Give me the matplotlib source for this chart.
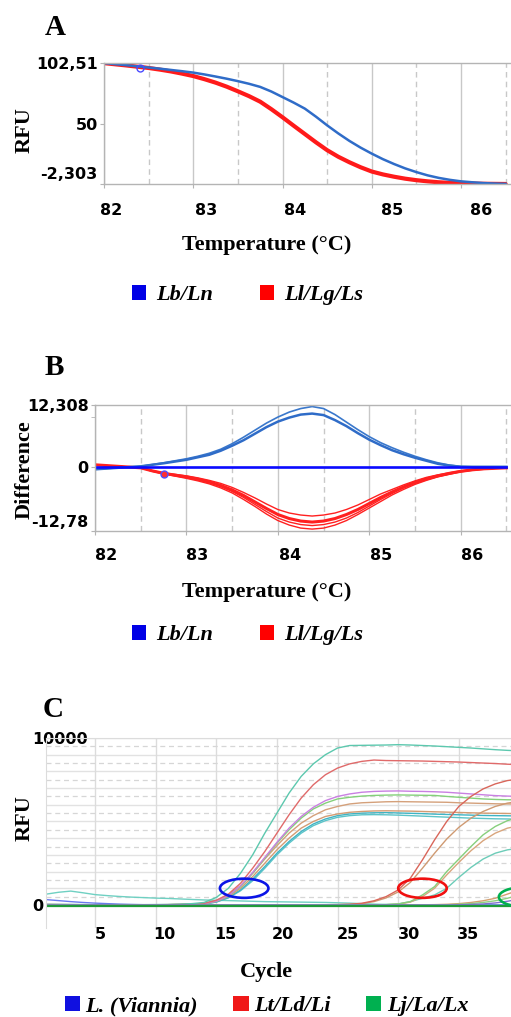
import numpy as np
import matplotlib
matplotlib.use("Agg")
import matplotlib.pyplot as plt
from matplotlib.patches import Patch, Ellipse
from matplotlib.font_manager import FontProperties
from matplotlib.transforms import ScaledTranslation

# ---------------- data ----------------
temp = [82.0, 82.125, 82.25, 82.375, 82.5, 82.625, 82.75, 82.875, 83.0, 83.125,
        83.25, 83.375, 83.5, 83.625, 83.75, 83.875, 84.0, 84.125, 84.25, 84.375,
        84.5, 84.625, 84.75, 84.875, 85.0, 85.125, 85.25, 85.375, 85.5, 85.625,
        85.75, 85.875, 86.0, 86.125, 86.25, 86.375, 86.5]

# Panel A: melt curves (RFU)
meltA_blue = [102.4, 101.5, 100.6, 99.6, 98.6, 97.6, 96.5, 95.4, 94.2, 92.6,
              90.8, 88.9, 86.8, 84.5, 81.8, 77.8, 73.0, 68.2, 63.0, 56.0,
              48.5, 41.5, 35.0, 29.2, 24.0, 19.2, 15.0, 11.2, 8.0, 5.2,
              3.0, 1.3, 0.0, -0.8, -1.5, -1.9, -2.2]
meltA_red = [102.4, 101.4, 100.4, 99.3, 98.2, 96.8, 95.2, 93.3, 91.2, 88.5,
             85.5, 82.0, 78.0, 73.8, 69.0, 62.5, 55.5, 48.2, 41.0, 33.8,
             27.0, 21.3, 16.5, 12.2, 8.5, 6.0, 4.0, 2.3, 1.0, 0.0,
             -0.8, -1.3, -1.7, -1.9, -2.1, -2.2, -2.3]
cursorA = [82.4, 98.4]

# Panel B: difference curves
diffB_blue_upper = [-0.5, -0.35, -0.2, -0.05, 0.1, 0.45, 0.8, 1.2, 1.6, 2.1,
                    2.7, 3.5, 4.6, 5.9, 7.3, 8.7, 9.9, 10.9, 11.6, 12.0,
                    11.6, 10.4, 8.9, 7.4, 6.0, 4.8, 3.8, 2.9, 2.1, 1.4,
                    0.8, 0.35, 0.1, 0.0, 0.0, 0.0, 0.0]
diffB_blue_lower = [-0.5, -0.35, -0.2, -0.05, 0.1, 0.4, 0.7, 1.05, 1.4, 1.9,
                    2.4, 3.2, 4.2, 5.3, 6.6, 7.9, 9.0, 9.8, 10.4, 10.6,
                    10.3, 9.3, 8.1, 6.7, 5.4, 4.3, 3.3, 2.5, 1.8, 1.2,
                    0.6, 0.25, 0.0, 0.0, 0.0, 0.0, 0.0]
diffB_red_shallow = [0.4, 0.25, 0.1, -0.05, -0.2, -0.75, -1.2, -1.5, -1.8, -2.2,
                     -2.7, -3.3, -4.1, -5.1, -6.2, -7.4, -8.5, -9.2, -9.6, -9.8,
                     -9.6, -9.2, -8.5, -7.6, -6.5, -5.4, -4.5, -3.6, -2.8, -2.1,
                     -1.6, -1.2, -0.8, -0.55, -0.4, -0.3, -0.2]
diffB_red_main = [0.4, 0.25, 0.1, -0.05, -0.2, -0.8, -1.3, -1.65, -2.0, -2.45,
                  -3.0, -3.7, -4.6, -5.7, -7.0, -8.3, -9.5, -10.3, -10.8, -11.0,
                  -10.8, -10.3, -9.5, -8.5, -7.3, -6.1, -5.0, -4.0, -3.1, -2.4,
                  -1.8, -1.3, -0.9, -0.6, -0.4, -0.3, -0.2]
diffB_red_mid = [0.4, 0.25, 0.1, -0.05, -0.2, -0.85, -1.35, -1.75, -2.15, -2.6,
                 -3.2, -3.95, -4.9, -6.1, -7.5, -8.9, -10.2, -11.0, -11.5, -11.7,
                 -11.5, -11.0, -10.2, -9.1, -7.8, -6.5, -5.3, -4.2, -3.3, -2.55,
                 -1.9, -1.4, -0.95, -0.65, -0.45, -0.3, -0.2]
diffB_red_deep = [0.4, 0.25, 0.1, -0.05, -0.2, -0.9, -1.4, -1.85, -2.3, -2.8,
                  -3.4, -4.2, -5.2, -6.5, -7.9, -9.4, -10.7, -11.6, -12.2, -12.4,
                  -12.2, -11.6, -10.7, -9.5, -8.2, -6.9, -5.6, -4.5, -3.5, -2.7,
                  -2.0, -1.5, -1.0, -0.7, -0.5, -0.3, -0.2]
zero_temp = [82.0, 86.5]
diffB_zero = [0.0, 0.0]
cursorB = [82.75, -1.5]

temp_ticks = [82, 83, 84, 85, 86]
temp_half_ticks = [82.5, 83.5, 84.5, 85.5, 86.5]
A_yticks = [-2.303, 50, 102.51]
A_ylabels = ["-2,303", "50", "102,51"]
B_yticks = [-12.78, 0, 12.308]
B_ylabels = ["-12,78", "0", "12,308"]

# Panel C: amplification curves (cycle 1..40)
cycles = list(range(1, 41))
# group 1 : L. (Viannia)
amp_teal_hi = [40, 35, 30, 25, 20, 20, 20, 20, 20, 25, 30, 45, 80,
               150, 450, 1000, 1900, 3000, 4300, 5500, 6700, 7700, 8450, 9000, 9400, 9550,
               9560, 9570, 9580, 9600, 9580, 9550, 9520, 9480, 9440, 9400, 9350, 9300, 9260, 9230]
amp_red_hi = [30, 25, 20, 15, 10, 10, 10, 10, 10, 15, 20, 30, 50,
              100, 280, 650, 1300, 2200, 3200, 4300, 5400, 6400, 7200, 7800, 8200, 8450,
              8600, 8680, 8650, 8640, 8630, 8620, 8600, 8580, 8560, 8530, 8500, 8470, 8430, 8400]
amp_purple = [20, 20, 15, 15, 10, 10, 10, 10, 10, 10, 15, 25, 40,
              80, 230, 560, 1150, 1950, 2850, 3750, 4600, 5300, 5850, 6250, 6500, 6650,
              6750, 6800, 6820, 6830, 6810, 6800, 6780, 6750, 6700, 6650, 6600, 6550, 6520, 6500]
amp_green1 = [10, 10, 10, 5, 5, 5, 5, 5, 5, 10, 15, 25, 40,
              80, 230, 550, 1100, 1900, 2800, 3700, 4500, 5200, 5750, 6100, 6350, 6450,
              6520, 6560, 6580, 6590, 6580, 6570, 6560, 6500, 6450, 6400, 6350, 6320, 6300, 6300]
amp_brown1 = [15, 15, 10, 10, 10, 10, 10, 10, 10, 10, 20, 30, 45,
              90, 260, 600, 1150, 1900, 2750, 3550, 4300, 4900, 5350, 5700, 5900, 6050,
              6120, 6150, 6180, 6190, 6180, 6170, 6160, 6150, 6120, 6100, 6080, 6060, 6050, 6040]
amp_brown2 = [10, 10, 10, 10, 5, 5, 5, 5, 5, 10, 15, 25, 35,
              70, 210, 500, 1000, 1700, 2500, 3300, 4000, 4600, 5000, 5300, 5450, 5550,
              5600, 5630, 5640, 5630, 5620, 5600, 5580, 5560, 5540, 5520, 5500, 5490, 5480, 5470]
amp_teal2 = [10, 10, 10, 5, 5, 5, 5, 5, 5, 10, 15, 20, 30,
             60, 180, 450, 900, 1550, 2300, 3100, 3800, 4400, 4850, 5150, 5350, 5450,
             5500, 5520, 5530, 5510, 5490, 5470, 5440, 5420, 5400, 5380, 5360, 5350, 5340, 5330]
amp_teal3 = [10, 10, 5, 5, 5, 5, 5, 5, 5, 10, 15, 20, 30,
             60, 170, 420, 850, 1450, 2200, 3000, 3700, 4300, 4750, 5050, 5250, 5350,
             5400, 5410, 5400, 5380, 5350, 5320, 5290, 5260, 5230, 5200, 5180, 5160, 5150, 5140]
# group 2 : Lt/Ld/Li
amp_red2 = [20, 15, 10, 10, 5, 5, 5, 5, 5, 5, 5, 5, 5, 5, 5, 5, 5, 5, 5, 5,
            5, 10, 10, 15, 20, 40, 100, 250, 500, 900, 1600, 2700, 3900, 5000, 5900, 6500,
            6950, 7250, 7450, 7550]
amp_brown3 = [10, 10, 5, 5, 5, 5, 5, 5, 5, 5, 5, 5, 5, 5, 5, 5, 5, 5, 5, 5,
              5, 5, 10, 15, 20, 35, 80, 200, 420, 780, 1350, 2200, 3100, 3950, 4650, 5200,
              5600, 5900, 6100, 6200]
amp_green2 = [5, 5, 5, 5, 5, 5, 5, 5, 5, 5, 5, 5, 5, 5, 5, 5, 5, 5, 5, 5,
              5, 5, 5, 5, 5, 5, 5, 10, 20, 60, 200, 600, 1100, 2000, 2750, 3500,
              4200, 4700, 5050, 5250]
amp_brown4 = [5, 5, 5, 5, 5, 5, 5, 5, 5, 5, 5, 5, 5, 5, 5, 5, 5, 5, 5, 5,
              5, 5, 5, 5, 5, 5, 5, 5, 15, 50, 170, 500, 1000, 1800, 2550, 3250,
              3850, 4300, 4600, 4750]
amp_teal4 = [5, 5, 5, 5, 5, 5, 5, 5, 5, 5, 5, 5, 5, 5, 5, 5, 5, 5, 5, 5,
             5, 5, 5, 5, 5, 5, 5, 10, 20, 60, 200, 400, 600, 1000, 1650, 2250,
             2750, 3100, 3300, 3400]
# group 3 : Lj/La/Lx
amp_g3a = [0, 0, 0, 0, 0, 0, 0, 0, 0, 0, 0, 0, 0, 0, 0, 0, 0, 0, 0, 0,
           0, 0, 0, 0, 0, 0, 0, 0, 0, 5, 5, 10, 20, 40, 80, 150, 250, 400, 650, 900]
amp_g3b = [0, 0, 0, 0, 0, 0, 0, 0, 0, 0, 0, 0, 0, 0, 0, 0, 0, 0, 0, 0,
           0, 0, 0, 0, 0, 0, 0, 0, 0, 0, 0, 0, 5, 10, 40, 80, 150, 250, 400, 600]
amp_g3c = [0, 0, 0, 0, 0, 0, 0, 0, 0, 0, 0, 0, 0, 0, 0, 0, 0, 0, 0, 0,
           0, 0, 0, 0, 0, 0, 0, 0, 0, 0, 0, 0, 0, 0, 10, 30, 60, 120, 220, 350]
# non-amplifying baselines
amp_teal_base = [650, 760, 830, 730, 620, 560, 510, 470, 440, 410, 390, 360, 330, 300,
                 280, 260, 240, 220, 200, 190, 180, 170, 160, 150, 130, 110, 80, 50,
                 30, 10, 0, 0, 0, 0, 0, 0, 0, 0, 0, 0]
amp_blue_base = [320, 260, 200, 150, 110, 80, 50, 30, 15, 5, 0, 0, 0, 0, 0, 0, 0, 0, 0, 0,
                 0, 0, 0, 0, 0, 0, 0, 0, 0, 0, 0, 0, 0, 0, 0, 0, 0, 0, 0, 0]
amp_green_flat_cycles = [1, 40]
amp_green_flat = [-40, -40]

cycle_ticks = [5, 10, 15, 20, 25, 30, 35]
C_yticks = [0, 10000]
C_ylabels = ["0", "10000"]
# threshold-crossing ellipses (centre cycle, centre RFU)
ellipse_centres = [(17.3, 1000), (32.0, 1000), (40.3, 480)]

# ---------------- style ----------------
SERIF = "Liberation Serif"
SANS = "DejaVu Sans"
tick_fp = FontProperties(family=SANS, weight="bold", size=11.5)
lab_fp = FontProperties(family=SERIF, weight="bold", size=16)
leg_fp = FontProperties(family=SERIF, weight="bold", style="italic", size=16)
letter_fp = FontProperties(family=SERIF, weight="bold", size=21)
GRID = "#c8c8c8"
SPINE = "#b4b4b4"

W, H = 511, 1017
fig = plt.figure(figsize=(W / 100, H / 100), dpi=100)


def rect(l, t, r, b):
    return [l / W, 1 - b / H, (r - l) / W, (b - t) / H]


axA = fig.add_axes(rect(104, 63, 511, 184))
axB = fig.add_axes(rect(95, 405, 511, 531))
axC = fig.add_axes(rect(46, 738, 511, 928))


def melt_style(ax, xlim, ylim, yticks, ylabels, xpad):
    ax.set_xlim(*xlim)
    ax.set_ylim(*ylim)
    ax.set_xticks(temp_ticks)
    ax.set_xticklabels([str(t) for t in temp_ticks])
    ax.set_xticks(temp_half_ticks, minor=True)
    ax.set_yticks(yticks)
    ax.set_yticklabels(ylabels)
    ax.set_axisbelow(True)
    ax.xaxis.grid(True, which="major", color=GRID, lw=1.0)
    ax.xaxis.grid(True, which="minor", color=GRID, lw=1.0, ls=(0, (4, 3)))
    ax.tick_params(axis="x", which="major", length=3, color=SPINE, pad=xpad)
    ax.tick_params(axis="x", which="minor", length=0)
    ax.tick_params(axis="y", length=3, color=SPINE, pad=1.5)
    for lab in ax.get_xticklabels() + ax.get_yticklabels():
        lab.set_fontproperties(tick_fp)
    for s in ["top", "bottom", "left"]:
        ax.spines[s].set_color(SPINE)
        ax.spines[s].set_linewidth(1.0)
    ax.spines["right"].set_visible(False)


# ---- Panel A
melt_style(axA, (82.0, 86.56), (-2.303, 102.51), A_yticks, A_ylabels, xpad=10.5)
axA.plot(temp, meltA_red, color="#ff1a1a", lw=3.0, solid_capstyle="round")
axA.plot(temp, meltA_blue, color="#2f6cc8", lw=1.8)
axA.plot(cursorA[0], cursorA[1], "o", mfc="none", mec="#4a4aff", ms=5, mew=1.0)
axA.set_xlabel("Temperature (°C)", fontproperties=lab_fp)
axA.xaxis.set_label_coords(0.40, -0.504)
axA.xaxis.label.set_va("center")
axA.set_ylabel("RFU", fontproperties=lab_fp)
axA.yaxis.set_label_coords(-0.194, 0.446)
axA.yaxis.label.set_va("center")

# ---- Panel B
melt_style(axB, (82.0, 86.55), (-12.78, 12.308), B_yticks, B_ylabels, xpad=9)
axB.set_yticks([10], minor=True)
axB.tick_params(axis="y", which="minor", length=3, color=SPINE)
for series, lw in [(diffB_red_shallow, 1.0), (diffB_red_mid, 1.0),
                   (diffB_red_deep, 1.0), (diffB_red_main, 2.2)]:
    axB.plot(temp, series, color="#ff2020", lw=lw)
axB.plot(temp, diffB_blue_upper, color="#3a78cc", lw=1.2)
axB.plot(temp, diffB_blue_lower, color="#2f6cc8", lw=1.8)
axB.plot(zero_temp, diffB_zero, color="#0a0aff", lw=1.9)
axB.plot(cursorB[0], cursorB[1], "o", mfc="#ff3030", mec="#5050ff", ms=5, mew=1.0)
axB.set_xlabel("Temperature (°C)", fontproperties=lab_fp)
axB.xaxis.set_label_coords(0.413, -0.484)
axB.xaxis.label.set_va("center")
axB.set_ylabel("Difference", fontproperties=lab_fp)
axB.yaxis.set_label_coords(-0.168, 0.484)
axB.yaxis.label.set_va("center")

# ---- Panel C
axC.set_xlim(0.96, 39.3)
axC.set_ylim(-1380, 10000)
axC.set_xticks(cycle_ticks)
axC.set_xticklabels([str(c) for c in cycle_ticks])
axC.set_yticks(C_yticks)
axC.set_yticklabels(C_ylabels)
axC.set_yticks(list(range(500, 10000, 1000)), minor=True)
axC.set_axisbelow(True)
axC.xaxis.grid(True, which="major", color="#dcdcdc", lw=1.0)
axC.yaxis.grid(True, which="major", color="#e2e2e2", lw=1.0)
axC.yaxis.grid(True, which="minor", color="#d6d6d6", lw=0.9, ls=(0, (4, 3)))
for v in range(1000, 10000, 1000):
    axC.axhline(v, color="#e2e2e2", lw=1.0, zorder=0)
axC.tick_params(axis="x", length=0, pad=-1)
axC.tick_params(axis="y", which="both", length=0, pad=10)
for lab in axC.get_xticklabels() + axC.get_yticklabels():
    lab.set_fontproperties(tick_fp)
for lab in axC.get_yticklabels():
    lab.set_ha("left")
for s in ["top", "left", "bottom"]:
    axC.spines[s].set_color("#dcdcdc")
axC.spines["bottom"].set_visible(False)
axC.spines["right"].set_visible(False)

curves_C = [
    (amp_teal_base, "#6fd0c2"), (amp_blue_base, "#6a78f0"),
    (amp_teal3, "#5cc4c8"), (amp_teal2, "#3fb4c4"), (amp_brown2, "#d29c74"),
    (amp_brown1, "#d4a07a"), (amp_green1, "#84d07a"), (amp_purple, "#c980e2"),
    (amp_red_hi, "#e06a6a"), (amp_teal_hi, "#5cc8ae"),
    (amp_teal4, "#6cccb8"), (amp_brown4, "#d9a57c"), (amp_green2, "#86cf7c"),
    (amp_brown3, "#cf9a72"), (amp_red2, "#d9665a"),
    (amp_g3a, "#d4a070"), (amp_g3b, "#8fd080"), (amp_g3c, "#8070d0"),
]
for series, col in curves_C:
    axC.plot(cycles, series, color=col, lw=1.0)
axC.plot(amp_green_flat_cycles, amp_green_flat, color="#1f9a3a", lw=1.6)

for (cx, cy), col in zip(ellipse_centres, ["#0a14e6", "#f01010", "#00b050"]):
    axC.add_patch(Ellipse((cx, cy), width=4.0, height=1150, fill=False,
                          edgecolor=col, lw=1.9, zorder=5))

axC.set_xlabel("Cycle", fontproperties=lab_fp)
axC.xaxis.set_label_coords(0.473, -0.2316)
axC.xaxis.label.set_va("center")
axC.set_ylabel("RFU", fontproperties=lab_fp)
axC.yaxis.set_label_coords(-0.045, 0.579)
axC.yaxis.label.set_va("center")

# ---- panel letters
fig.text(45 / W, 1 - 35 / H, "A", fontproperties=letter_fp, ha="left", va="baseline")
fig.text(45 / W, 1 - 375 / H, "B", fontproperties=letter_fp, ha="left", va="baseline")
fig.text(43 / W, 1 - 717 / H, "C", fontproperties=letter_fp, ha="left", va="baseline")

# ---- legends
melt_handles = [Patch(facecolor="#0000e6", edgecolor="none"),
                Patch(facecolor="#ff0000", edgecolor="none")]
melt_names = ["Lb/Ln", "Ll/Lg/Ls"]
for yc in (295, 635):
    fig.legend(melt_handles, melt_names, loc="center",
               bbox_to_anchor=(247.5 / W, 1 - yc / H), ncol=2, frameon=False,
               prop=leg_fp, handlelength=0.65, handleheight=0.65,
               handletextpad=0.45, columnspacing=2.1, borderpad=0, borderaxespad=0)

C_handles = [Patch(facecolor="#1010e0", edgecolor="none"),
             Patch(facecolor="#f01818", edgecolor="none"),
             Patch(facecolor="#00b050", edgecolor="none")]
C_names = ["L. (Viannia)", "Lt/Ld/Li", "Lj/La/Lx"]
fig.legend(C_handles, C_names, loc="center", bbox_to_anchor=(266.5 / W, 1 - 1006 / H),
           ncol=3, frameon=False, prop=leg_fp, handlelength=0.68, handleheight=0.68,
           handletextpad=0.25, columnspacing=1.6, borderpad=0, borderaxespad=0)

# ---- tick label offsets (labels are shifted right in the original figure)
fig.canvas.draw()


def shift(labels, dxs, dy_px=0):
    for lab, dx in zip(labels, dxs):
        lab.set_transform(lab.get_transform() +
                          ScaledTranslation(dx / 100, dy_px / 100, fig.dpi_scale_trans))


shift(axA.get_xticklabels(), [7, 13, 13, 20, 20])
shift(axB.get_xticklabels(), [11, 11, 12, 12, 11])
shift(axC.get_xticklabels(), [5, 9, 9, 6, 10, 11, 9])
shift([axA.get_yticklabels()[0]], [0], 11)
shift([axB.get_yticklabels()[0]], [0], 10)

fig.savefig("out.png", dpi=100)
